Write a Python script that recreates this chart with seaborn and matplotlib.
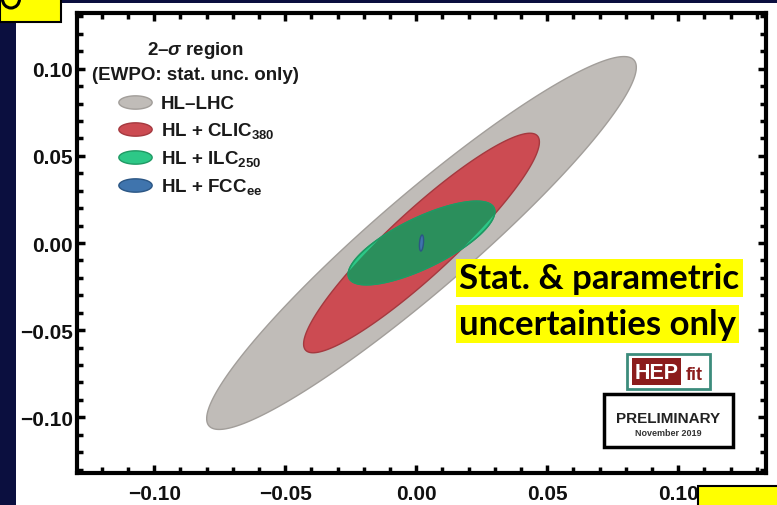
import numpy as np
import pandas as pd
import matplotlib
matplotlib.use("Agg")
import matplotlib.pyplot as plt
from matplotlib.patches import Rectangle, Polygon, Arc
from matplotlib.path import Path
from matplotlib.lines import Line2D
from matplotlib.ticker import MultipleLocator, FuncFormatter
import seaborn as sns

W, H = 777, 506

# 2-sigma ellipses: half extent in x / y and correlation
labels = ["HL\u2013LHC", "HL + CLIC$_{380}$", "HL + ILC$_{250}$", "HL + FCC$_{ee}$"]
half_x = [0.082, 0.045, 0.028, 0.0008]
half_y = [0.107, 0.063, 0.024, 0.0046]
rho = [0.942, 0.92, 0.75, 0.3]
center_x = [0.002, 0.002, 0.002, 0.002]
center_y = [0.0, 0.0, 0.0, 0.0]
fill_colors = ["#c0bcb8", "#cc4b52", "#2dc887", "#3f74ad"]
edge_colors = ["#a29e9a", "#a5393f", "#1f9a64", "#2b5684"]
overlap_green = "#2b8f5c"

x_ticks = [-0.10, -0.05, 0.00, 0.05, 0.10]
y_ticks = [-0.10, -0.05, 0.00, 0.05, 0.10]

ell = pd.DataFrame({"label": labels, "hx": half_x, "hy": half_y, "rho": rho,
                    "cx": center_x, "cy": center_y,
                    "fc": fill_colors, "ec": edge_colors})

sns.set_theme(style="ticks")
plt.rcParams["font.family"] = ["Liberation Sans", "DejaVu Sans"]
plt.rcParams["font.weight"] = "bold"
plt.rcParams["mathtext.fontset"] = "custom"
plt.rcParams["mathtext.default"] = "bf"
plt.rcParams["mathtext.bf"] = "Liberation Sans:bold"
plt.rcParams["mathtext.it"] = "Liberation Sans:bold:italic"
plt.rcParams["mathtext.rm"] = "Liberation Sans:bold"


def px(x, y):
    # pixel (from top-left) -> figure fraction
    return x / W, 1 - y / H


def ellipse_xy(row, n=400):
    t = np.linspace(0, 2 * np.pi, n)
    x = row.cx + row.hx * np.cos(t)
    y = row.cy + row.hy * (row.rho * np.cos(t) + np.sqrt(1 - row.rho ** 2) * np.sin(t))
    return np.column_stack([x, y])


fig = plt.figure(figsize=(W / 100, H / 100), dpi=100)
fig.patch.set_facecolor("#0b0f3f")
fig.patches.append(Rectangle(px(16, 506), (W - 16) / W, (H - 4) / H,
                             transform=fig.transFigure, fc="white", ec="none", zorder=-5))

l, t = px(77, 14)
r, b = px(766, 474)
ax = fig.add_axes([l, b, r - l, t - b])
ax.set_facecolor("white")

# ellipses
patches = []
for i, row in ell.iterrows():
    p = Polygon(ellipse_xy(row), closed=True, fc=row.fc, ec=row.ec, lw=1.0, zorder=2 + i)
    ax.add_patch(p)
    patches.append(p)
    if i == 2:
        # darker green where ILC overlaps CLIC
        dark = Polygon(ellipse_xy(row), closed=True, fc=overlap_green, ec="none", zorder=2 + i)
        ax.add_patch(dark)
        dark.set_clip_path(patches[1])
        ax.add_patch(Polygon(ellipse_xy(row), closed=True, fc="none", ec=row.ec,
                             lw=1.0, zorder=2 + i))

ax.set_xlim(-0.1295, 0.1335)
ax.set_ylim(-0.132, 0.132)
ax.set_xticks(x_ticks)
ax.set_yticks(y_ticks)
ax.xaxis.set_minor_locator(MultipleLocator(0.01))
ax.yaxis.set_minor_locator(MultipleLocator(0.01))
fmt = FuncFormatter(lambda v, pos: ("%.2f" % (0.0 if abs(v) < 1e-9 else v)).replace("-", "\u2212"))
ax.xaxis.set_major_formatter(fmt)
ax.yaxis.set_major_formatter(fmt)
ax.tick_params(which="both", direction="in", top=True, right=True, color="black",
               width=2.5, labelsize=15, labelcolor="#111111")
ax.tick_params(which="major", length=6)
ax.tick_params(which="minor", length=4.5)
ax.tick_params(axis="x", pad=8)
ax.tick_params(axis="y", pad=3)
for lab in ax.get_xticklabels() + ax.get_yticklabels():
    lab.set_fontweight("bold")
for s in ax.spines.values():
    s.set_linewidth(3)
    s.set_color("black")
    s.set_zorder(10)

# legend with oval markers
th = np.linspace(0, 2 * np.pi, 60)
oval = Path(np.column_stack([np.cos(th), 0.4 * np.sin(th)]), closed=True)
handles = [Line2D([], [], ls="none", marker=oval, markersize=24, markerfacecolor=fc,
                  markeredgecolor=ec, markeredgewidth=1) for fc, ec in zip(fill_colors, edge_colors)]
lx, ly = px(92, 40)
lx = (lx - l) / (r - l)
ly = (ly - b) / (t - b)
leg = ax.legend(handles, labels, title="2\u2013$\\mathit{\\sigma}$ region\n(EWPO: stat. unc. only)",
                loc="upper left", bbox_to_anchor=(lx, ly), frameon=False,
                prop={"size": 13.5, "weight": "bold"},
                title_fontproperties={"size": 13.5, "weight": "bold"},
                handlelength=2.0, handletextpad=0.4, labelspacing=0.43, borderaxespad=0,
                borderpad=0)
for txt in leg.get_texts():
    txt.set_color("#1a1a1a")
leg.get_title().set_color("#1a1a1a")
leg.get_title().set_multialignment("center")
leg.get_title().set_linespacing(1.45)
leg._legend_box.sep = 0.43 * 13.5 + 3  # a bit more room under the title
leg.set_zorder(20)

# yellow annotation
for txt, yc in [("Stat. & parametric", 279), ("uncertainties only", 325)]:
    fx, fy = px(459, yc)
    fig.text(fx, fy, txt, ha="left", va="center", fontsize=25, family="Lato",
             weight="bold", color="black",
             bbox=dict(boxstyle="square,pad=0.1", fc="#ffff00", ec="none"))

# HEPfit logo
fig.patches.append(Rectangle(px(627, 390), 83 / W, 35 / H, transform=fig.transFigure,
                             fc="white", ec="#3c8c7c", lw=2, zorder=3))
fig.patches.append(Rectangle(px(632, 386), 49 / W, 27 / H, transform=fig.transFigure,
                             fc="#8b1c1c", ec="none", zorder=3))
fig.text(*px(656.5, 379), "HEP", ha="center", va="baseline", fontsize=15.5,
         weight="bold", color="white", zorder=4)
fig.text(*px(694, 380), "fit", ha="center", va="baseline", fontsize=13,
         weight="bold", color="#8b1c1c", zorder=4)

# PRELIMINARY stamp
fig.patches.append(Rectangle(px(604, 448), 129 / W, 53 / H, transform=fig.transFigure,
                             fc="white", ec="black", lw=2.5, zorder=3))
fig.text(*px(668, 423), "PRELIMINARY", ha="center", va="baseline", fontsize=11,
         weight="bold", color="#222222", zorder=4)
fig.text(*px(668, 436), "November 2019", ha="center", va="baseline", fontsize=6.5,
         weight="bold", color="#333333", zorder=4)

# slide yellow boxes cut by the crop
fig.patches.append(Rectangle(px(0, 23), 61 / W, 30 / H, transform=fig.transFigure,
                             fc="#ffff00", ec="black", lw=1.5, zorder=6))
fig.patches.append(Arc(px(11, 0), 17 / W, 18 / H, theta1=180, theta2=360,
                       transform=fig.transFigure, color="black", lw=2.2, zorder=7))
fig.patches.append(Rectangle(px(698, 520), 90 / W, 33 / H, transform=fig.transFigure,
                             fc="#ffff00", ec="black", lw=1.5, zorder=6))

fig.savefig("out.png", dpi=100, facecolor=fig.get_facecolor())
